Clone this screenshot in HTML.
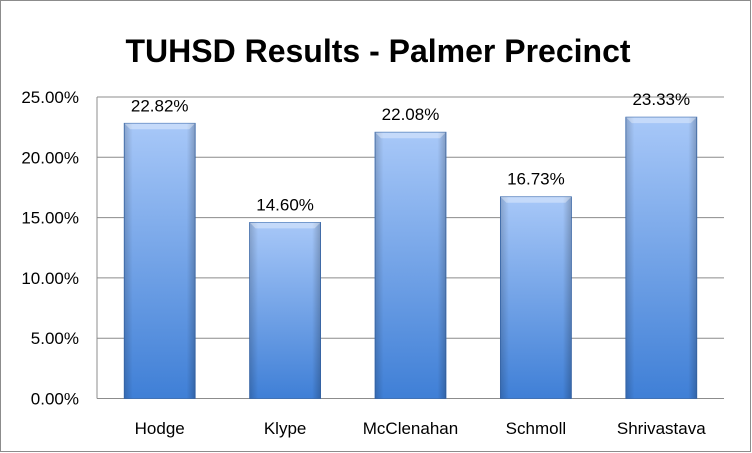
<!DOCTYPE html>
<html><head><meta charset="utf-8"><style>
html,body{margin:0;padding:0;background:#fff;}
svg{display:block;font-family:"Liberation Sans",sans-serif;}
</style></head><body>
<svg id="chart" width="752" height="453">
<defs>
<linearGradient id="barGrad" x1="0" y1="0" x2="0" y2="1">
<stop offset="0" stop-color="#a8c8f8"/><stop offset="1" stop-color="#3f7fd6"/>
</linearGradient>
<linearGradient id="edgeGrad" x1="0" y1="0" x2="1" y2="0">
<stop offset="0" stop-color="#000" stop-opacity="0.18"/><stop offset="0.12" stop-color="#000" stop-opacity="0"/>
<stop offset="0.88" stop-color="#000" stop-opacity="0"/><stop offset="1" stop-color="#000" stop-opacity="0.22"/>
</linearGradient>
</defs>
<rect x="0.5" y="0.5" width="750" height="451" fill="#fff" stroke="#8c8c8c"/>
<text x="378" y="62" text-anchor="middle" font-size="32" font-weight="bold" fill="#000">TUHSD Results - Palmer Precinct</text>
<g id="grid"></g><g id="bars"></g><g id="labels"></g>
</svg>
<script>
const categories = ["Hodge","Klype","McClenahan","Schmoll","Shrivastava"];
const values = [22.82,14.60,22.08,16.73,23.33];
const valueLabels = ["22.82%","14.60%","22.08%","16.73%","23.33%"];
const ticks = [0,5,10,15,20,25];
const tickLabels = ["0.00%","5.00%","10.00%","15.00%","20.00%","25.00%"];

const NS="http://www.w3.org/2000/svg";
const L=97,R=724,T=97,B=398.5;
const y=v=>B-(v/25)*(B-T);
const band=(R-L)/categories.length;
const x=i=>L+band*i+band/2;
const bw=71;
function mk(tag,attrs,parent){const e=document.createElementNS(NS,tag);for(const k in attrs)e.setAttribute(k,attrs[k]);parent.appendChild(e);return e;}
const grid=document.getElementById('grid'),bars=document.getElementById('bars'),labels=document.getElementById('labels');
ticks.forEach((t,i)=>{
  const ln=mk('line',{x1:L,x2:R,y1:y(t),y2:y(t),stroke:'#8c8c8c','stroke-width':1},grid);
  
  
  const tx=mk('text',{x:79,y:y(t)+6,'text-anchor':'end','font-size':17,fill:'#000'},grid);
  tx.textContent=tickLabels[i];
  
  
});
const ax=mk('line',{x1:L,x2:L,y1:T,y2:B,stroke:'#8c8c8c','stroke-width':1},grid);


categories.forEach((c,i)=>{
  const top=y(values[i]);
  const g=mk('g',{},bars);
  
  
  mk('rect',{x:x(i)-bw/2,y:top,width:bw,height:B-top,fill:'url(#barGrad)',stroke:'#3a6db5','stroke-width':0.8},g);
  mk('rect',{x:x(i)-bw/2,y:top,width:bw,height:B-top,fill:'url(#edgeGrad)'},g);
  mk('polygon',{points:`${x(i)-bw/2},${top} ${x(i)+bw/2},${top} ${x(i)+bw/2-6},${top+6} ${x(i)-bw/2+6},${top+6}`,fill:'#fff','fill-opacity':0.35},g);
  const vl=mk('text',{x:x(i),y:top-12,'text-anchor':'middle','font-size':17,fill:'#000'},labels);
  vl.textContent=valueLabels[i];
  
  
  const cl=mk('text',{x:x(i),y:434,'text-anchor':'middle','font-size':17,fill:'#000'},labels);
  cl.textContent=c;
  
  
});
</script>
</body></html>
